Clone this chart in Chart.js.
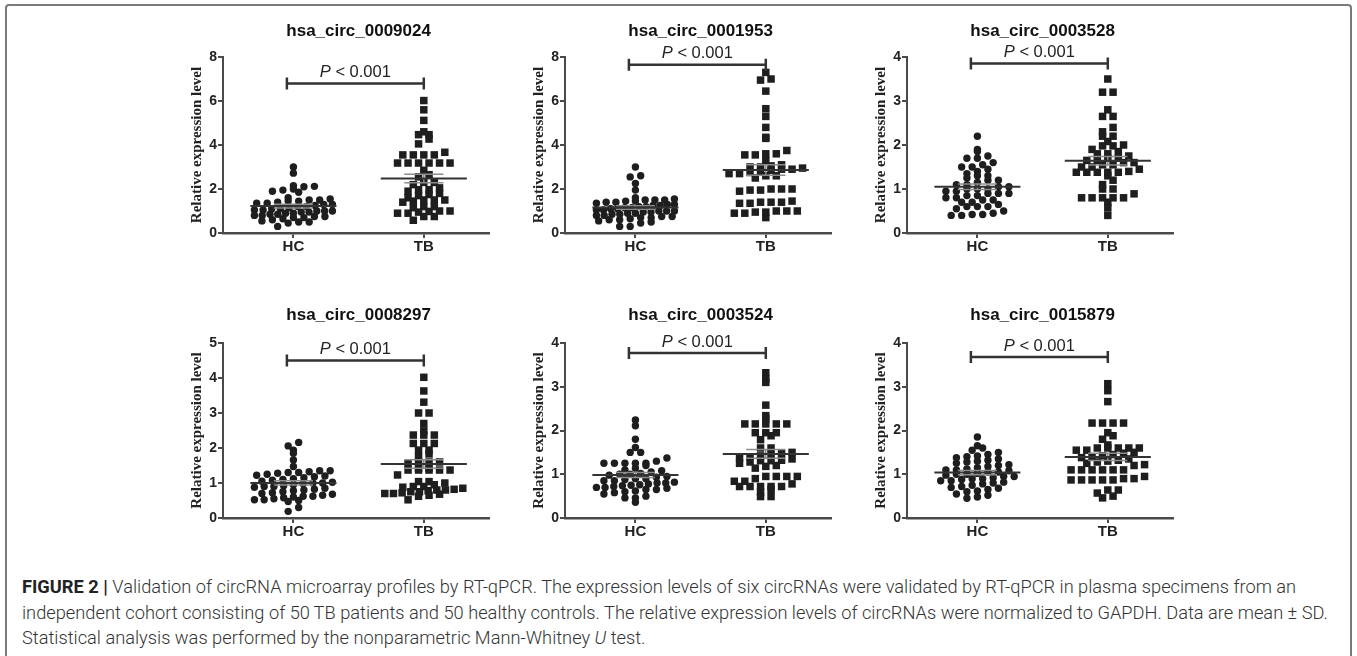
<!DOCTYPE html>
<html>
<head>
<meta charset="utf-8">
<script src="https://cdn.jsdelivr.net/npm/chart.js@4.4.1/dist/chart.umd.min.js"></script>
<style>
  body { margin: 0; background: #fff; width: 1357px; height: 656px; overflow: hidden; position: relative;
         font-family: "Liberation Sans", Arial, sans-serif; }
  #frame { position: absolute; left: 5px; top: 4px; width: 1347px; height: 700px;
           border: 2px solid #7a7a7a; border-radius: 4px; box-sizing: border-box; }
  canvas { position: absolute; }
  .cap { position: absolute; left: 22px; white-space: nowrap; color: #333; font-size: 16px; line-height: 20px;
         font-family: Roboto, "Liberation Sans", Arial, sans-serif; font-weight: 300; }
  .cap b { color: #222; font-weight: 700; }
</style>
</head>
<body>
<div id="frame"></div>
<div class="cap" id="cap1" style="top:577px"><b>FIGURE 2 |</b> Validation of circRNA microarray profiles by RT-qPCR. The expression levels of six circRNAs were validated by RT-qPCR in plasma specimens from an</div>
<div class="cap" style="top:603px">independent cohort consisting of 50&#8201;TB patients and 50 healthy controls. The relative expression levels of circRNAs were normalized to GAPDH. Data are mean &plusmn; SD.</div>
<div class="cap" style="top:628px">Statistical analysis was performed by the nonparametric Mann-Whitney <i>U</i> test.</div>

<script>
// panel titles, groups and axis settings
const genes = ["hsa_circ_0009024", "hsa_circ_0001953", "hsa_circ_0003528",
               "hsa_circ_0008297", "hsa_circ_0003524", "hsa_circ_0015879"];
const groups = ["HC", "TB"];
const yMax = [8, 8, 4, 5, 4, 4];
const yStep = [2, 2, 1, 1, 1, 1];
const bracketAt = [6.8, 7.65, 3.85, 4.5, 3.77, 3.68];
const pText = "< 0.001";

// relative expression levels, 50 per group
const hc1 = [3.0, 2.72, 2.15, 2.1, 2.12, 2.0, 1.95, 1.9, 1.85, 1.6, 1.55, 1.5, 1.5, 1.45, 1.45, 1.4, 1.35, 1.35, 1.3, 1.3,
             1.25, 1.2, 1.2, 1.15, 1.1, 1.1, 1.05, 1.05, 1.0, 1.0, 1.0, 0.95, 0.95, 0.9, 0.9, 0.85, 0.85, 0.8, 0.8, 0.75,
             0.75, 0.7, 0.7, 0.65, 0.6, 0.55, 0.5, 0.5, 0.45, 0.3];
const tb1 = [6.02, 5.6, 5.12, 4.6, 4.47, 4.47, 4.27, 4.05, 3.67, 3.55, 3.55, 3.55, 3.55, 3.18, 3.18, 3.18, 3.18, 3.18, 3.18, 2.85,
             2.65, 2.55, 1.2, 1.0, 0.9, 2.3, 2.3, 2.2, 2.05, 1.97, 1.97, 1.9, 1.8, 1.75, 1.7, 1.6, 1.5, 1.5, 1.5, 1.45,
             1.4, 1.2, 1.15, 1.0, 0.98, 0.95, 0.9, 0.75, 0.75, 0.58];
const hc2 = [3.0, 2.6, 2.55, 2.25, 1.95, 1.6, 1.55, 1.5, 1.5, 1.5, 1.45, 1.45, 1.4, 1.4, 1.35, 1.3, 1.3, 1.25, 1.25, 1.2,
             1.2, 1.15, 1.15, 1.1, 1.1, 1.05, 1.05, 1.0, 1.0, 1.0, 0.95, 0.95, 0.9, 0.9, 0.85, 0.85, 0.8, 0.8, 0.75, 0.75,
             0.7, 0.7, 0.65, 0.6, 0.6, 0.55, 0.5, 0.45, 0.3, 0.3];
const tb2 = [7.3, 7.0, 6.95, 6.45, 5.65, 5.3, 4.8, 4.35, 4.3, 3.75, 3.6, 3.6, 3.55, 3.55, 3.3, 3.1, 3.05, 3.0, 3.0, 2.95,
             2.9, 2.85, 2.8, 2.75, 2.7, 2.6, 2.9, 2.7, 2.0, 2.0, 2.0, 1.95, 1.95, 1.9, 2.5, 2.6, 1.45, 1.4, 1.4, 1.4,
             1.35, 1.35, 1.0, 1.0, 0.95, 0.95, 0.9, 0.9, 1.0, 0.7];
const hc3 = [2.2, 1.9, 1.85, 1.75, 1.7, 1.7, 1.6, 1.55, 1.5, 1.5, 1.45, 1.4, 1.35, 1.3, 1.3, 1.25, 1.2, 1.2, 1.15, 1.1,
             1.1, 1.05, 1.05, 1.0, 1.0, 1.0, 0.95, 0.95, 0.9, 0.9, 0.9, 0.85, 0.85, 0.8, 0.8, 0.75, 0.75, 0.7, 0.7, 0.65,
             0.6, 0.6, 0.6, 0.55, 0.5, 0.45, 0.42, 0.42, 0.4, 0.4];
const tb3 = [3.5, 3.2, 3.2, 2.8, 2.65, 2.65, 2.4, 2.3, 2.2, 2.2, 2.08, 2.0, 1.98, 1.98, 1.9, 1.85, 1.8, 1.8, 1.75, 1.7,
             1.7, 1.65, 1.65, 1.6, 1.6, 1.55, 1.55, 1.5, 1.5, 1.45, 1.4, 1.38, 1.38, 1.38, 1.38, 1.38, 1.2, 1.1, 1.0, 1.0,
             0.89, 0.8, 0.8, 0.8, 0.8, 0.8, 0.7, 0.57, 0.4, 1.3];
const hc4 = [2.16, 2.06, 1.94, 1.85, 1.66, 1.47, 1.35, 1.35, 1.32, 1.3, 1.3, 1.28, 1.25, 1.22, 1.2, 1.18, 1.15, 1.12, 1.1, 1.08,
             1.05, 1.02, 1.0, 1.0, 0.98, 0.95, 0.92, 0.9, 0.88, 0.85, 0.82, 0.8, 0.78, 0.75, 0.72, 0.7, 0.68, 0.65, 0.62, 0.62,
             0.6, 0.58, 0.55, 0.52, 0.52, 0.5, 0.47, 0.3, 0.19, 0.9];
const tb4 = [4.02, 3.63, 3.31, 3.0, 3.0, 2.7, 2.49, 2.37, 2.37, 2.37, 2.13, 2.13, 2.13, 1.94, 1.94, 1.83, 1.75, 1.6, 1.6, 1.6,
             1.55, 1.42, 1.42, 1.37, 1.37, 1.37, 1.37, 1.37, 1.23, 1.04, 1.04, 1.0, 0.95, 0.9, 0.9, 0.88, 0.85, 0.82, 0.8, 0.8,
             0.78, 0.75, 0.75, 0.72, 0.7, 0.7, 0.68, 0.65, 0.62, 0.52];
const hc5 = [2.24, 2.11, 1.8, 1.61, 1.5, 1.5, 1.37, 1.3, 1.25, 1.25, 1.25, 1.25, 1.25, 1.2, 1.14, 1.1, 1.08, 1.05, 1.02, 1.0,
             1.0, 0.98, 0.95, 0.93, 0.9, 0.9, 0.88, 0.85, 0.85, 0.82, 0.8, 0.8, 0.78, 0.76, 0.75, 0.74, 0.72, 0.7, 0.7, 0.68,
             0.65, 0.65, 0.62, 0.6, 0.58, 0.55, 0.5, 0.46, 0.46, 0.36];
const tb5 = [3.32, 3.18, 3.1, 2.58, 2.34, 2.27, 2.15, 2.15, 2.15, 2.15, 2.15, 1.95, 1.95, 1.95, 1.88, 1.79, 1.6, 1.6, 1.5, 1.48,
             1.45, 1.42, 1.4, 1.38, 1.35, 1.32, 1.31, 1.31, 1.28, 1.25, 1.2, 1.18, 1.14, 0.95, 0.95, 0.95, 0.95, 0.9, 0.84, 0.84,
             0.78, 0.72, 0.72, 0.72, 0.72, 0.72, 0.65, 0.59, 0.49, 0.49];
const hc6 = [1.85, 1.65, 1.6, 1.55, 1.5, 1.45, 1.42, 1.4, 1.38, 1.35, 1.32, 1.3, 1.28, 1.25, 1.22, 1.2, 1.18, 1.15, 1.12, 1.1,
             1.1, 1.08, 1.05, 1.05, 1.02, 1.0, 1.0, 0.98, 0.95, 0.95, 0.92, 0.9, 0.9, 0.88, 0.85, 0.85, 0.82, 0.8, 0.78, 0.75,
             0.72, 0.7, 0.68, 0.65, 0.62, 0.6, 0.55, 0.52, 0.48, 0.45];
const tb6 = [3.07, 2.91, 2.66, 2.17, 2.17, 2.17, 2.17, 1.95, 1.88, 1.8, 1.67, 1.6, 1.6, 1.6, 1.6, 1.55, 1.5, 1.48, 1.45, 1.42,
             1.4, 1.38, 1.35, 1.32, 1.3, 1.28, 1.25, 1.22, 1.2, 1.1, 1.1, 1.1, 1.1, 1.1, 1.1, 1.55, 0.95, 0.87, 0.87, 0.87,
             0.87, 0.87, 0.64, 0.64, 0.57, 0.9, 0.5, 0.9, 0.46, 1.6];
const hcValues = [hc1, hc2, hc3, hc4, hc5, hc6];
const tbValues = [tb1, tb2, tb3, tb4, tb5, tb6];

// layout
const colX = [223, 565, 907];        // y axis position of each column
const rowTop = [21, 305];
const titleGap = [26, 28];           // title centre above the plot area
const padTop = [36, 38];
const rowH = [242, 243];
const ink = "#1e1e1e";

function mean(a) { return a.reduce((s, v) => s + v, 0) / a.length; }
function sem(a) {
  const m = mean(a);
  const sd = Math.sqrt(a.reduce((s, v) => s + (v - m) * (v - m), 0) / (a.length - 1));
  return sd / Math.sqrt(a.length);
}

// title, bracket, P label and mean +- SEM bars
const marks = {
  id: "marks",
  afterDatasetsDraw(chart, args, o) {
    const { ctx, scales: { x, y } } = chart;
    const seg = (x1, y1, x2, y2) => {
      ctx.beginPath();
      ctx.moveTo(x.getPixelForValue(x1), y.getPixelForValue(y1));
      ctx.lineTo(x.getPixelForValue(x2), y.getPixelForValue(y2));
      ctx.stroke();
    };
    ctx.save();
    o.sets.forEach((vals, g) => {
      const m = mean(vals), se = sem(vals), cx = g + 1;
      ctx.strokeStyle = "#8c8c8c"; ctx.lineWidth = 1.5;
      seg(cx, m - se, cx, m + se);
      seg(cx - 0.15, m - se, cx + 0.15, m - se);
      seg(cx - 0.15, m + se, cx + 0.15, m + se);
      ctx.strokeStyle = "#333"; ctx.lineWidth = 2;
      seg(cx - 0.33, m, cx + 0.33, m);
    });
    // panel title, centred over the two groups
    const mid = (x.getPixelForValue(1) + x.getPixelForValue(2)) / 2;
    ctx.fillStyle = "#111";
    ctx.textAlign = "center";
    ctx.textBaseline = "middle";
    ctx.font = "bold 17px 'Liberation Sans', Arial";
    ctx.fillText(o.title, mid, chart.chartArea.top - o.gap);
    // significance bracket
    const by = y.getPixelForValue(o.bracket);
    const x1 = x.getPixelForValue(0.95), x2 = x.getPixelForValue(2);
    ctx.strokeStyle = "#333"; ctx.lineWidth = 2.5;
    ctx.beginPath();
    ctx.moveTo(x1, by); ctx.lineTo(x2, by);
    ctx.moveTo(x1, by - 6); ctx.lineTo(x1, by + 6);
    ctx.moveTo(x2, by - 6); ctx.lineTo(x2, by + 6);
    ctx.stroke();
    ctx.fillStyle = "#222";
    ctx.textAlign = "left";
    ctx.font = "italic 16.5px 'Liberation Sans', Arial";
    const wp = ctx.measureText("P ").width;
    ctx.font = "16.5px 'Liberation Sans', Arial";
    const wr = ctx.measureText(pText).width;
    const tx = (x1 + x2) / 2 - (wp + wr) / 2;
    ctx.font = "italic 16.5px 'Liberation Sans', Arial";
    ctx.fillText("P", tx, by - 11);
    ctx.font = "16.5px 'Liberation Sans', Arial";
    ctx.fillText(pText, tx + wp, by - 11);
    ctx.restore();
  }
};

// GraphPad-like scatter: bin by pixel row, spread points sideways
function spread(vals, chart) {
  const y = chart.scales.y, x = chart.scales.x;
  const unit = x.getPixelForValue(2) - x.getPixelForValue(1);
  const bins = {};
  vals.map((v, i) => i).sort((a, b) => vals[a] - vals[b]).forEach(i => {
    const b = Math.round(y.getPixelForValue(vals[i]) / 6);
    (bins[b] = bins[b] || []).push(i);
  });
  const off = new Array(vals.length).fill(0);
  Object.values(bins).forEach(idx => {
    const n = idx.length;
    let step = 10.5;
    if ((n - 1) * step > 78) step = 78 / (n - 1);
    idx.forEach((i, k) => { off[i] = (k - (n - 1) / 2) * step / unit; });
  });
  return off;
}

genes.forEach((gene, p) => {
  const row = Math.floor(p / 3), col = p % 3;
  const cv = document.createElement("canvas");
  cv.width = 330; cv.height = rowH[row];
  cv.style.left = (colX[col] - 45) + "px";
  cv.style.top = rowTop[row] + "px";
  document.body.appendChild(cv);
  const sets = [hcValues[p], tbValues[p]];
  const chart = new Chart(cv, {
    type: "scatter",
    data: {
      datasets: sets.map((vals, g) => ({
        data: vals.map(v => ({ x: g + 1, y: v })),
        pointStyle: g === 0 ? "circle" : "rect",
        pointRadius: g === 0 ? 3.7 : 5.3,
        backgroundColor: ink,
        borderWidth: 0
      }))
    },
    options: {
      responsive: false,
      animation: false,
      events: [],
      layout: { padding: { left: 10, right: 19, top: padTop[row], bottom: 0 } },
      plugins: {
        legend: { display: false },
        tooltip: { enabled: false },
        title: { display: false },
        marks: { sets: sets, bracket: bracketAt[p], title: gene, gap: titleGap[row] }
      },
      scales: {
        x: {
          type: "linear", min: 0.46, max: 2.5,
          afterFit: s => { s.height = 30; },
          afterBuildTicks: s => { s.ticks = [{ value: 1 }, { value: 2 }]; },
          border: { display: true, color: "#4a4a4a", width: 2.5 },
          grid: { drawOnChartArea: false, drawTicks: true, tickLength: 5, color: "#4a4a4a", lineWidth: 2 },
          ticks: {
            padding: 0, color: "#222",
            font: { family: "'Liberation Sans', Arial", size: 15, weight: "bold" },
            callback: v => groups[v - 1]
          }
        },
        y: {
          min: 0, max: yMax[p],
          afterFit: s => { s.width = 35; },
          border: { display: true, color: "#4a4a4a", width: 2 },
          grid: { drawOnChartArea: false, drawTicks: true, tickLength: 5, color: "#4a4a4a", lineWidth: 2 },
          ticks: {
            stepSize: yStep[p], padding: 1, color: "#222",
            font: { family: "'Liberation Sans', Arial", size: 14, weight: "bold" }
          },
          title: {
            display: true, text: "Relative expression level", color: "#222",
            padding: { top: 0, bottom: 0 },
            font: { family: "'Liberation Serif', 'Times New Roman', serif", size: 15, weight: "bold" }
          }
        }
      }
    },
    plugins: [marks]
  });
  chart.data.datasets.forEach((ds, g) => {
    const off = spread(sets[g], chart);
    ds.data = sets[g].map((v, i) => ({ x: g + 1 + off[i], y: v }));
  });
  chart.update("none");
});

// stretch the caption so the first line spans about the same width as the original
const c1 = document.getElementById("cap1");
const w1 = c1.getBoundingClientRect().width;
const fs = 16 * 1275 / w1;
document.querySelectorAll(".cap").forEach(e => { e.style.fontSize = fs.toFixed(2) + "px"; });
</script>
</body>
</html>
